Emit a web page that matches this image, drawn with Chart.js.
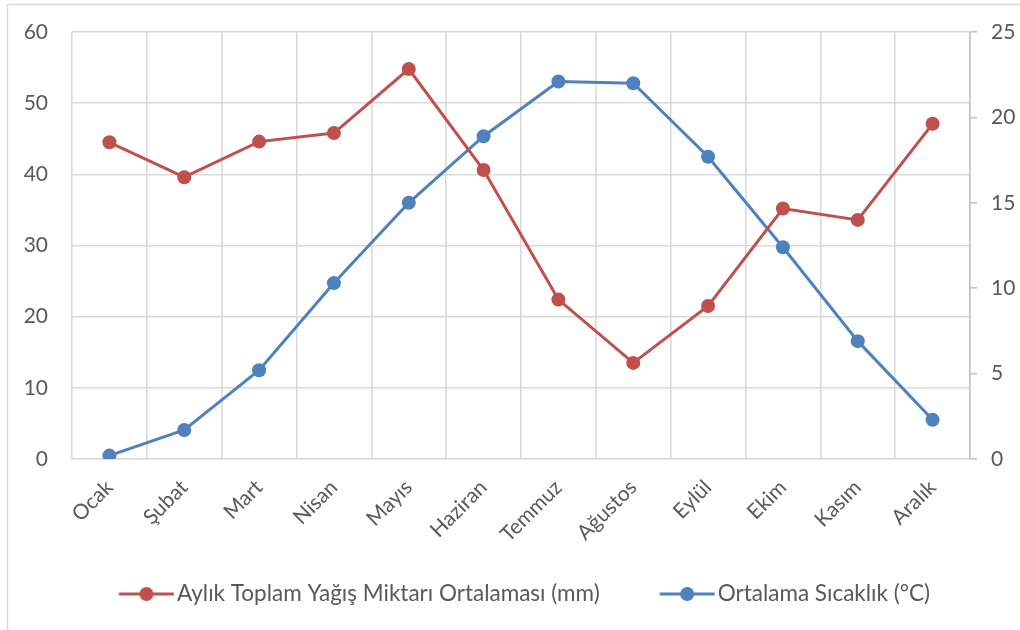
<!DOCTYPE html>
<html>
<head>
<meta charset="utf-8">
<script src="https://cdn.jsdelivr.net/npm/chart.js@4/dist/chart.umd.min.js"></script>
<style>
html,body{margin:0;padding:0;background:#fff;}
#wrap{width:1020px;height:630px;position:relative;}
</style>
</head>
<body>
<div id="wrap"><canvas id="c" width="1020" height="630"></canvas></div>
<script>
const months = ["Ocak","Şubat","Mart","Nisan","Mayıs","Haziran","Temmuz","Ağustos","Eylül","Ekim","Kasım","Aralık"];
const precipitation = [44.5, 39.6, 44.6, 45.8, 54.8, 40.6, 22.4, 13.5, 21.5, 35.2, 33.6, 47.1];
const temperature = [0.2, 1.7, 5.2, 10.3, 15.0, 18.9, 22.1, 22.0, 17.7, 12.4, 6.9, 2.3];
const leftTicks = [0, 10, 20, 30, 40, 50, 60];
const rightTicks = [0, 5, 10, 15, 20, 25];
const precipLabel = "Aylık Toplam Yağış Miktarı Ortalaması (mm)";
const tempLabel = "Ortalama Sıcaklık (°C)";

const RED = "#C0504D", BLUE = "#4F81BD", TXT = "#595959", GRID = "#dadada", AXIS = "#c4c4c4";
const FONT = "Lato";
const LEG_FONT = 22.5, LEG_PAD = 31, LEG_BOX = 75.75;

function legendIcon(color){
  const cv = document.createElement("canvas");
  cv.width = 93; cv.height = 22;
  const g = cv.getContext("2d");
  const x0 = 37.6, x1 = 92.6;
  g.strokeStyle = color; g.lineWidth = 3;
  g.beginPath(); g.moveTo(x0, 11); g.lineTo(x1, 11); g.stroke();
  g.fillStyle = color;
  g.beginPath(); g.arc((x0 + x1) / 2, 11, 7, 0, Math.PI*2); g.fill();
  return cv;
}
const icons = [legendIcon(RED), legendIcon(BLUE)];

const borderPlugin = {
  id: "outerBorder",
  beforeDraw(chart){
    const ctx = chart.ctx;
    ctx.save();
    ctx.strokeStyle = GRID; ctx.lineWidth = 1.5;
    ctx.strokeRect(7.5, 4.5, 1040, 660);
    ctx.restore();
  }
};

function noPad(s){ s.paddingTop = 0; s.paddingBottom = 0; s.paddingLeft = 0; s.paddingRight = 0; }

new Chart(document.getElementById("c"), {
  type: "line",
  data: {
    labels: months,
    datasets: [
      {label: precipLabel, data: precipitation, yAxisID: "y", borderColor: RED, backgroundColor: RED,
       borderWidth: 3, pointRadius: 7, pointHoverRadius: 7, pointBackgroundColor: RED, pointBorderWidth: 0, tension: 0},
      {label: tempLabel, data: temperature, yAxisID: "y2", borderColor: BLUE, backgroundColor: BLUE,
       borderWidth: 3, pointRadius: 7, pointHoverRadius: 7, pointBackgroundColor: BLUE, pointBorderWidth: 0, tension: 0}
    ]
  },
  options: {
    responsive: false,
    animation: false,
    devicePixelRatio: 1,
    layout: {padding: {top: 32, left: 0, right: 0, bottom: 14.75}},
    plugins: {
      tooltip: {enabled: false},
      legend: {
        position: "bottom",
        labels: {
          color: TXT,
          font: {family: FONT, size: LEG_FONT},
          usePointStyle: true,
          pointStyleWidth: LEG_BOX,
          padding: LEG_PAD,
          generateLabels(chart){
            return chart.data.datasets.map((ds, i) => ({
              text: ds.label, fillStyle: ds.borderColor, strokeStyle: ds.borderColor,
              pointStyle: icons[i], fontColor: TXT, hidden: false, datasetIndex: i, lineWidth: 0
            }));
          }
        }
      }
    },
    scales: {
      x: {
        offset: true,
        grid: {color: GRID, lineWidth: 1.6, offset: true, drawTicks: false},
        border: {color: GRID, width: 1.6},
        ticks: {color: TXT, font: {family: FONT, size: 21}, maxRotation: 45, minRotation: 45, padding: 16, autoSkip: false},
        afterFit(s){ s.height = 92.75; noPad(s); }
      },
      y: {
        position: "left",
        min: 0, max: 60,
        afterBuildTicks(s){ s.ticks = leftTicks.map(v => ({value: v})); },
        grid: {color: GRID, lineWidth: 1.6, drawTicks: false},
        border: {display: false},
        ticks: {color: TXT, font: {family: FONT, size: 21}, padding: 24},
        afterFit(s){ s.width = 72; noPad(s); }
      },
      y2: {
        position: "right",
        min: 0, max: 25,
        afterBuildTicks(s){ s.ticks = rightTicks.map(v => ({value: v})); },
        grid: {drawOnChartArea: false, color: AXIS, tickLength: 7, lineWidth: 1.6},
        border: {color: AXIS, width: 1.6},
        ticks: {color: TXT, font: {family: FONT, size: 21}, padding: 14},
        afterFit(s){ s.width = 50; noPad(s); }
      }
    }
  },
  plugins: [borderPlugin]
});
</script>
</body>
</html>
